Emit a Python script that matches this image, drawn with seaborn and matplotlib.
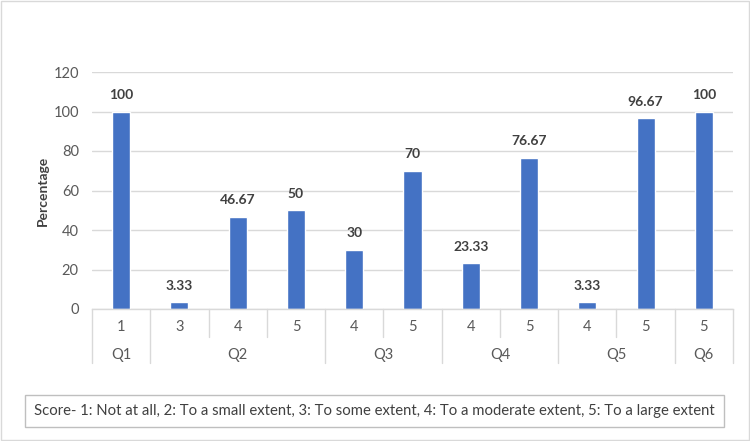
import matplotlib
matplotlib.use("Agg")
import matplotlib.pyplot as plt
import matplotlib.patches as mpatches
import matplotlib.transforms as mtransforms
import seaborn as sns
import pandas as pd

questions = ["Q1", "Q2", "Q2", "Q2", "Q3", "Q3", "Q4", "Q4", "Q5", "Q5", "Q6"]
scores = ["1", "3", "4", "5", "4", "5", "4", "5", "4", "5", "5"]
values = [100, 3.33, 46.67, 50, 30, 70, 23.33, 76.67, 3.33, 96.67, 100]
value_labels = ["100", "3.33", "46.67", "50", "30", "70", "23.33", "76.67", "3.33", "96.67", "100"]
y_ticks = [0, 20, 40, 60, 80, 100, 120]
legend_text = ("Score- 1: Not at all, 2: To a small extent, 3: To some extent, "
               "4: To a moderate extent, 5: To a large extent")

df = pd.DataFrame({
    "key": [f"{q}-{s}-{i}" for i, (q, s) in enumerate(zip(questions, scores))],
    "question": questions,
    "score": scores,
    "value": values,
})

sns.set_theme(style="white")
plt.rcParams["font.family"] = ["Lato", "DejaVu Sans"]

TXT = "#595959"
DARK = "#404040"
GRID = "#d9d9d9"

fig = plt.figure(figsize=(7.5, 4.41), dpi=100)
ax = fig.add_axes([92 / 750, 1 - 309 / 441, (733 - 92) / 750, (309 - 72) / 441])

sns.barplot(data=df, x="key", y="value", color="#4472C4", width=0.31,
            saturation=1, ax=ax, order=df["key"].tolist())

ax.set_ylim(0, 120)
ax.set_xlim(-0.5, len(values) - 0.5)
ax.set_yticks(y_ticks)
ax.set_yticklabels([str(t) for t in y_ticks], color=TXT, fontsize=10.5)
ax.yaxis.grid(True, color=GRID, linewidth=1)
ax.set_axisbelow(True)
ax.tick_params(axis="y", length=0, pad=9.5)
ax.tick_params(axis="x", length=0)
ax.set_xticks(range(len(values)))
ax.set_xticklabels([])
ax.set_xlabel("")
ax.set_ylabel("Percentage", fontsize=10, fontweight="bold", color=DARK, labelpad=3)
for s in ["top", "right", "left"]:
    ax.spines[s].set_visible(False)
ax.spines["bottom"].set_color(GRID)
ax.spines["bottom"].set_linewidth(1)

# data labels
for i, (v, lab) in enumerate(zip(values, value_labels)):
    ax.annotate(lab, (i, v), xytext=(0, 7.5), textcoords="offset points",
                ha="center", va="bottom", fontsize=10, fontweight="bold", color=DARK)

trans = mtransforms.blended_transform_factory(ax.transData, ax.transAxes)
axh = 309 - 72
short_y = -28 / axh
long_y = -54 / axh
row1_y = -18 / axh
row2_y = -46 / axh

# score labels
for i, s in enumerate(scores):
    ax.text(i, row1_y, s, transform=trans, ha="center", va="center",
            fontsize=10.5, color=TXT)

# group boundaries
groups = []
for i, q in enumerate(questions):
    if groups and groups[-1][0] == q:
        groups[-1][2] = i
    else:
        groups.append([q, i, i])
bounds = set()
for q, a, b in groups:
    bounds.add(a - 0.5)
    bounds.add(b + 0.5)
    ax.text((a + b) / 2, row2_y, q, transform=trans, ha="center", va="center",
            fontsize=10.5, color=TXT)
for k in range(len(values) + 1):
    x = k - 0.5
    yb = long_y if x in bounds else short_y
    ax.plot([x, x], [0, yb], transform=trans, color=GRID, linewidth=1,
            clip_on=False)

# legend-like box
fig.patches.append(mpatches.Rectangle((25 / 750, 1 - 427 / 441), (724 - 25) / 750,
                                      32 / 441, transform=fig.transFigure,
                                      facecolor="white", edgecolor="#bfbfbf",
                                      linewidth=1))
fig.text((25 + 724) / 2 / 750, 1 - 411 / 441, legend_text, ha="center", va="center",
         fontsize=10.7, color=DARK)

# outer border
fig.patches.append(mpatches.Rectangle((1 / 750, 1 / 441), 748 / 750, 439 / 441,
                                      transform=fig.transFigure, facecolor="none",
                                      edgecolor=GRID, linewidth=1))

fig.savefig("out.png", dpi=100)
